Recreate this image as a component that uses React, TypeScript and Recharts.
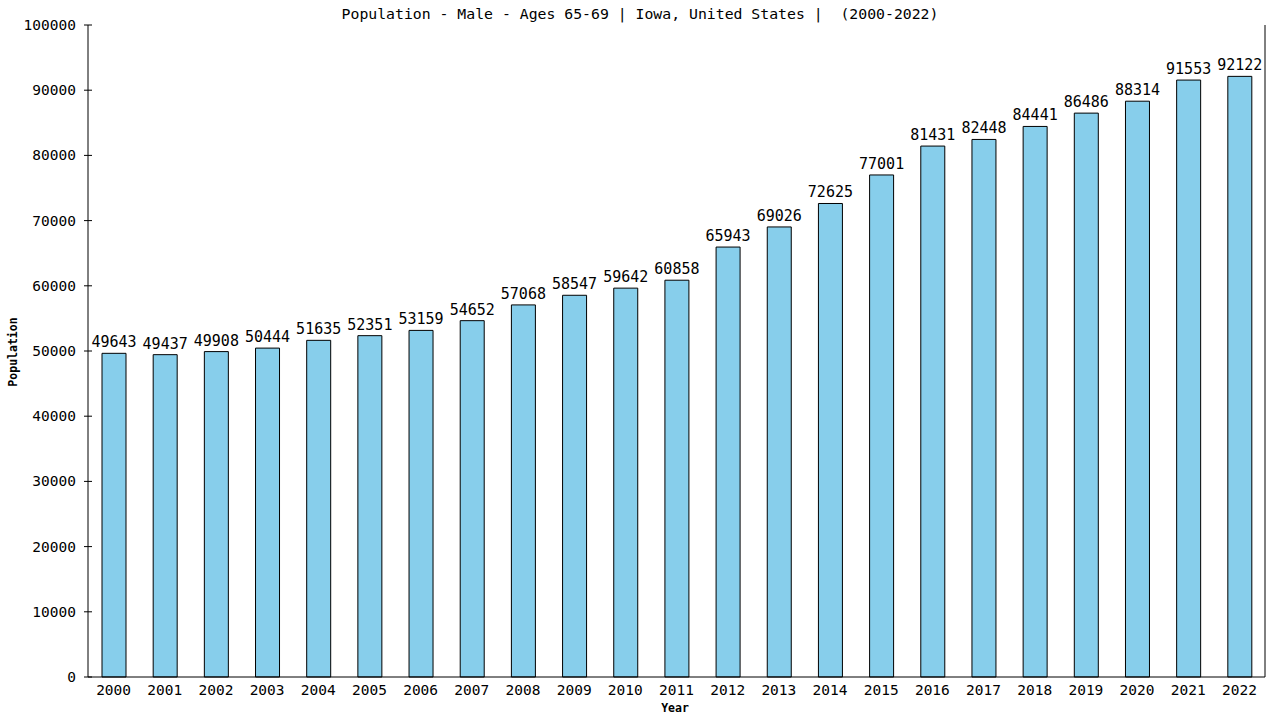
import React from "react"
import { BarChart, Bar, XAxis, YAxis, LabelList } from "recharts"

const years = [
  "2000", "2001", "2002", "2003", "2004", "2005", "2006", "2007", "2008", "2009", "2010", "2011",
  "2012", "2013", "2014", "2015", "2016", "2017", "2018", "2019", "2020", "2021", "2022",
]
const population = [
  49643, 49437, 49908, 50444, 51635, 52351, 53159, 54652, 57068, 58547, 59642, 60858,
  65943, 69026, 72625, 77001, 81431, 82448, 84441, 86486, 88314, 91553, 92122,
]
const yTicks = [0, 10000, 20000, 30000, 40000, 50000, 60000, 70000, 80000, 90000, 100000]

const data = years.map((year, i) => ({ year, population: population[i] }))

const FONT = "'DejaVu Sans Mono', monospace"

function YTick(props: any) {
  const { x, y, payload } = props
  return (
    <g>
      <line x1={x - 4} x2={x + 4} y1={y} y2={y} stroke="#000" />
      <text x={x - 12} y={y} textAnchor="end" dominantBaseline="central" fontFamily={FONT} fontSize={14.5} fill="#000">
        {payload.value}
      </text>
    </g>
  )
}

function XTick(props: any) {
  const { x, payload } = props
  return (
    <text x={x} y={690} textAnchor="middle" dominantBaseline="central" fontFamily={FONT} fontSize={14.5} fill="#000">
      {payload.value}
    </text>
  )
}

export default function App() {
  return (
    <div style={{ position: "absolute", left: 0, top: 0, width: 1280, height: 720, background: "#fff" }}>
      <BarChart width={1280} height={720} data={data} margin={{ top: 25, right: 14, left: 0, bottom: 0 }}>
        <text x={640} y={13} textAnchor="middle" dominantBaseline="central" fontFamily={FONT} fontSize={14.8} fill="#000" style={{ whiteSpace: "pre" }}>
          {"Population - Male - Ages 65-69 | Iowa, United States |  (2000-2022)"}
        </text>
        <text x={13} y={352} textAnchor="middle" dominantBaseline="central" transform="rotate(-90 13 352)" fontFamily={FONT} fontSize={11.5} fontWeight="bold" fill="#000">
          Population
        </text>
        <text x={675} y={708} textAnchor="middle" dominantBaseline="central" fontFamily={FONT} fontSize={11.5} fontWeight="bold" fill="#000">
          Year
        </text>
        <XAxis dataKey="year" height={43} tickLine={false} axisLine={{ stroke: "#000" }} tick={<XTick />} interval={0} />
        <YAxis
          width={88}
          domain={[0, 100000]}
          ticks={yTicks}
          tickSize={0}
          tickMargin={0}
          tickLine={false}
          axisLine={{ stroke: "#000" }}
          tick={<YTick />}
          interval={0}
        />
        <YAxis
          yAxisId="right"
          orientation="right"
          width={1}
          domain={[0, 100000]}
          ticks={yTicks}
          tick={false}
          tickLine={false}
          axisLine={{ stroke: "#000" }}
        />
        <Bar dataKey="population" fill="#87CEEB" stroke="#000" strokeWidth={1} barSize={24} isAnimationActive={false}>
          <LabelList dataKey="population" position="top" offset={6} fontFamily={FONT} fontSize={15} fill="#000" />
        </Bar>
      </BarChart>
    </div>
  )
}
